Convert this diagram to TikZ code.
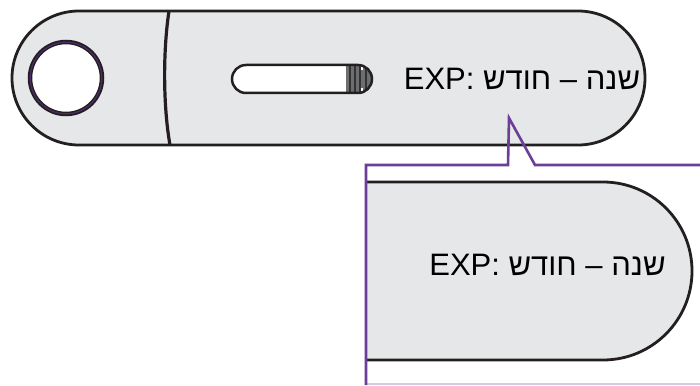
\documentclass[tikz,border=0pt]{standalone}
\usepackage{fontspec}
\setmainfont{Liberation Sans}
\newfontfamily\hebfont[Script=Hebrew]{Liberation Sans}
\TeXXeTstate=1
\definecolor{stripgray}{HTML}{E6E7E8}
\definecolor{outline}{HTML}{231F20}
\definecolor{calloutpurple}{HTML}{6B3F98}
\definecolor{lavender}{HTML}{D9C9E8}
\definecolor{capgray}{HTML}{6D6E70}
\begin{document}
\begin{tikzpicture}[x=1pt,y=1pt,
  stripline/.style={draw=outline,line width=2.8pt},
  exptext/.style={font=\fontsize{31}{36}\selectfont\hebfont,inner sep=0pt,anchor=base}]
\useasboundingbox (0,0) rectangle (700,-385);
% top strip
\fill[stripgray] (79,-11) -- (578,-11) arc[start angle=90,end angle=-90,radius=67] -- (79,-145) arc[start angle=270,end angle=90,radius=67] -- cycle;
\draw[stripline] (79,-11) -- (578,-11) arc[start angle=90,end angle=-90,radius=67] -- (79,-145) arc[start angle=270,end angle=90,radius=67] -- cycle;
% divider
\draw[draw=outline,line width=3.2pt] (169,-11) .. controls (163,-50) and (163,-106) .. (170,-145);
% hole
\fill[white] (66,-78) circle[radius=36];
\draw[outline,line width=4.5pt] (66,-78) circle[radius=36];
\draw[calloutpurple!70!black,line width=1.2pt] (66,-78) circle[radius=35.8];
% slot
\begin{scope}
  \clip (246,-65) -- (358,-65) arc[start angle=90,end angle=-90,radius=14] -- (246,-93) arc[start angle=270,end angle=90,radius=14] -- cycle;
  \fill[white] (230,-60) rectangle (375,-98);
  \fill[capgray] (346,-60) rectangle (375,-98);
  \foreach \xx in {350,355,360,366}{\draw[black!80,line width=1.2pt] (\xx,-60) -- (\xx,-98);}
  \fill[white] (361,-66) rectangle (363,-70);
  \fill[white] (361,-88) rectangle (363,-92);
\end{scope}
\draw[stripline,line width=2.5pt] (246,-65) -- (358,-65) arc[start angle=90,end angle=-90,radius=14] -- (246,-93) arc[start angle=270,end angle=90,radius=14] -- cycle;
% top text
\node[exptext] (exptop) at (522,-89.5) {\beginR שנה – חודש :\beginL EXP\endL\endR};
% callout inner strip
\fill[stripgray] (366,-182) -- (603,-182) arc[start angle=90,end angle=-90,radius=89] -- (366,-360) -- cycle;
\draw[stripline] (366,-182) -- (603,-182) arc[start angle=90,end angle=-90,radius=89] -- (366,-360);
\node[exptext] (expbig) at (547.5,-275) {\beginR שנה – חודש :\beginL EXP\endL\endR};
% callout frame
\draw[lavender,line width=1.2pt] (366,-384) -- (700,-384);
\draw[calloutpurple,line width=2.6pt,line join=miter] (366,-385) -- (366,-165) -- (508,-165) -- (509,-118) -- (535,-165) -- (701,-165);
\end{tikzpicture}
\end{document}
